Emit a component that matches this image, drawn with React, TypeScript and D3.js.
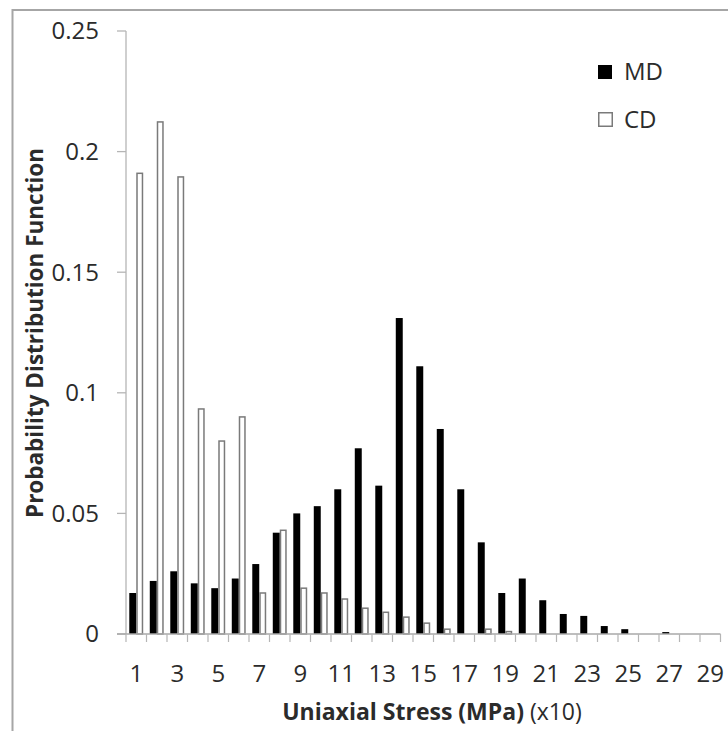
import React from "react";
import * as d3 from "d3";

const categories: string[] = Array.from({ length: 29 }, (_, i) => String(i + 1));
const mdValues: number[] = [
  0.017, 0.022, 0.026, 0.021, 0.019, 0.023, 0.029, 0.042, 0.05, 0.053,
  0.06, 0.077, 0.0615, 0.131, 0.111, 0.085, 0.06, 0.038, 0.017, 0.023,
  0.014, 0.0083, 0.0075, 0.0033, 0.002, 0, 0.0008, 0, 0,
];
const cdValues: number[] = [
  0.191, 0.2123, 0.1895, 0.0933, 0.08, 0.09, 0.017, 0.043, 0.019, 0.017,
  0.0145, 0.0107, 0.009, 0.007, 0.0045, 0.002, 0, 0.002, 0.001, 0,
  0, 0, 0, 0, 0, 0, 0, 0, 0,
];
const yTicks: number[] = [0, 0.05, 0.1, 0.15, 0.2, 0.25];
const yTickLabels: string[] = ["0", "0.05", "0.1", "0.15", "0.2", "0.25"];
const seriesNames: string[] = ["MD", "CD"];

const FONT = "'Open Sans', 'DejaVu Sans', sans-serif";

export default function App() {
  const W = 728;
  const H = 731;
  const x0 = 126;
  const x1 = 720.5;
  const yBottom = 634;
  const yTop = 31;

  const x = d3.scaleBand<string>().domain(categories).range([x0, x1]).paddingInner(0.32).paddingOuter(0.16);
  const xs = d3.scaleBand<string>().domain(seriesNames).range([0, x.bandwidth()]).padding(0);
  const y = d3.scaleLinear().domain([0, 0.25]).range([yBottom, yTop]);
  const step = x.step();
  const boundaries = d3.range(categories.length + 1).map((k) => x0 + k * step);

  const axisColor = "#b5b5b5";
  const textColor = "#2b2b2b";

  return (
    <svg width={W} height={H} style={{ position: "absolute", left: 0, top: 0 }}>
      <rect x={0} y={0} width={W} height={H} fill="#fff" />
      {/* outer frame */}
      <rect x={12.5} y={10} width={W + 20} height={H + 20} fill="none" stroke="#a6a6a6" strokeWidth={2} />

      {/* y axis */}
      <line x1={x0} x2={x0} y1={yTop} y2={yBottom} stroke={axisColor} strokeWidth={1.3} />
      {yTicks.map((t, i) => (
        <g key={"yt" + i}>
          <line x1={x0 - 9} x2={x0} y1={y(t)} y2={y(t)} stroke={axisColor} strokeWidth={1.3} />
          <text x={99} y={y(t)} dy="0.35em" textAnchor="end" fontFamily={FONT} fontSize={24} fill={textColor}>
            {yTickLabels[i]}
          </text>
        </g>
      ))}

      {/* bars */}
      {categories.map((c, i) => (
        <g key={"b" + c}>
          {mdValues[i] > 0 && (
            <rect
              x={(x(c) as number) + (xs("MD") as number)}
              y={y(mdValues[i])}
              width={xs.bandwidth()}
              height={yBottom - y(mdValues[i])}
              fill="#000"
            />
          )}
          {cdValues[i] > 0 && (
            <rect
              x={(x(c) as number) + (xs("CD") as number) + 0.75}
              y={y(cdValues[i])}
              width={xs.bandwidth() - 1.5}
              height={yBottom - y(cdValues[i])}
              fill="#fff"
              stroke="#7a7a7a"
              strokeWidth={1.5}
            />
          )}
        </g>
      ))}

      {/* x axis */}
      <line x1={x0 - 9} x2={x1} y1={yBottom} y2={yBottom} stroke="#a8a8a8" strokeWidth={1.3} />
      {boundaries.map((bx, k) => (
        <line key={"xt" + k} x1={bx} x2={bx} y1={yBottom} y2={yBottom + 8} stroke={axisColor} strokeWidth={1.2} />
      ))}
      {categories.map((c, i) =>
        i % 2 === 0 ? (
          <text
            key={"xl" + c}
            x={(x(c) as number) + x.bandwidth() / 2}
            y={682}
            textAnchor="middle"
            fontFamily={FONT}
            fontSize={24}
            fill={textColor}
          >
            {c}
          </text>
        ) : null
      )}

      {/* axis titles */}
      <text x={432} y={720} textAnchor="middle" fontFamily={FONT} fontSize={23} fill={textColor}>
        <tspan fontWeight="bold">Uniaxial Stress (MPa)</tspan>
        <tspan> (x10)</tspan>
      </text>
      <text
        transform="translate(43,333) rotate(-90)"
        textAnchor="middle"
        fontFamily={FONT}
        fontSize={22.5}
        fontWeight="bold"
        fill={textColor}
      >
        Probability Distribution Function
      </text>

      {/* legend */}
      <rect x={598} y={65} width={14} height={14} fill="#000" />
      <text x={624} y={72} dy="0.35em" fontFamily={FONT} fontSize={24} fill={textColor}>
        MD
      </text>
      <rect x={598.75} y={112.75} width={13.5} height={13.5} fill="#fff" stroke="#7a7a7a" strokeWidth={1.5} />
      <text x={624} y={120} dy="0.35em" fontFamily={FONT} fontSize={24} fill={textColor}>
        CD
      </text>
    </svg>
  );
}
